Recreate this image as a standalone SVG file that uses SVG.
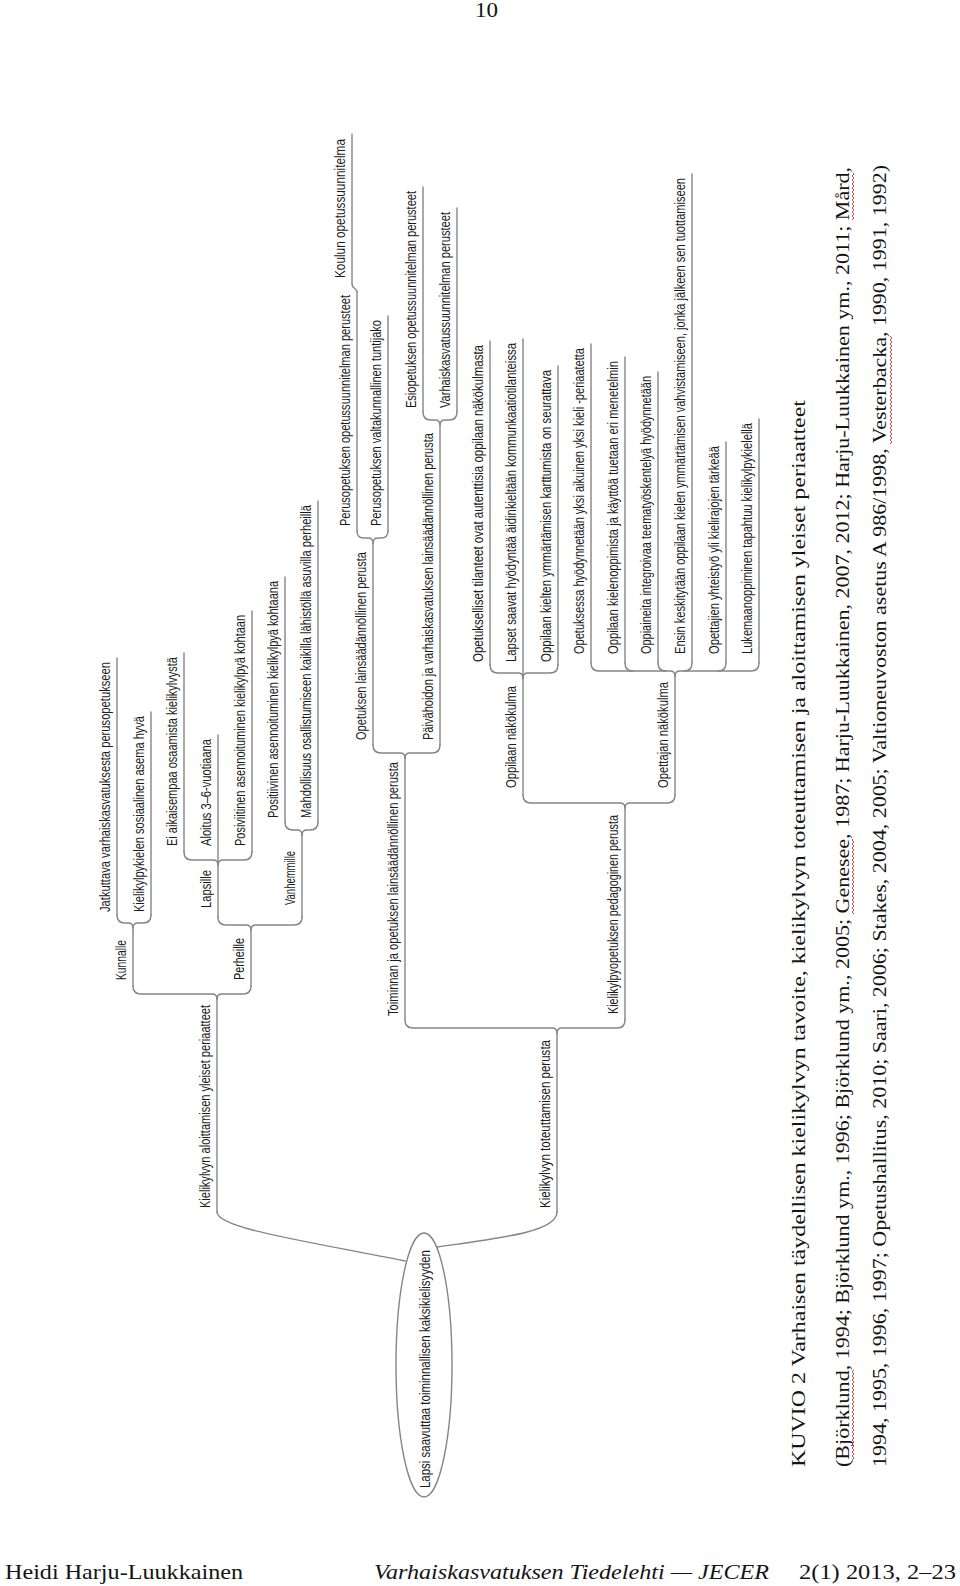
<svg xmlns="http://www.w3.org/2000/svg" width="960" height="1586" viewBox="0 0 960 1586">
<style>
.t{font-family:"Liberation Sans Narrow","Liberation Sans",Arial,sans-serif;font-size:15px;fill:#1c1c1c}
.u{stroke:#858585;stroke-width:1.4;fill:none;stroke-linecap:round}
.c{stroke:#858585;stroke-width:1.4;fill:none;stroke-linecap:round;stroke-linejoin:round}
.cap{font-family:"Liberation Serif","DejaVu Serif",serif;font-size:19px;fill:#141414}
.ft{font-family:"Liberation Serif","DejaVu Serif",serif;font-size:21px;fill:#141414}
</style>
<defs>
<pattern id="wave" width="2" height="4" patternUnits="userSpaceOnUse">
<path d="M0,0 L2,2 L0,4" stroke="#d23030" stroke-width="0.9" fill="none"/>
</pattern>
</defs>
<rect width="960" height="1586" fill="#ffffff"/>
<text class="ft" x="475" y="17" font-size="20" textLength="23" lengthAdjust="spacingAndGlyphs">10</text>

<g id="connectors">
<path class="c" d="M405,1261 C300,1240 217,1228 217,1212"/>
<path class="c" d="M437,1247 C500,1238 557,1232 557,1212"/>
<path class="c" d="M133,986 Q133,994 141,994 L212,994 Q217,994 217,999"/>
<path class="c" d="M251,986 Q251,994 243,994 L222,994 Q217,994 217,999"/>
<path class="c" d="M117,915 Q117,923 125,923 L128,923 Q133,923 133,928"/>
<path class="c" d="M151,915 Q151,923 143,923 L138,923 Q133,923 133,928"/>
<path class="c" d="M218,917 Q218,925 226,925 L246,925 Q251,925 251,930"/>
<path class="c" d="M302,917 Q302,925 294,925 L256,925 Q251,925 251,930"/>
<path class="c" d="M184,852 Q184,860 192,860 L213,860 Q218,860 218,865"/>
<path class="c" d="M252,852 Q252,860 244,860 L223,860 Q218,860 218,865"/>
<path class="c" d="M285,822 Q285,830 293,830 L297,830 Q302,830 302,835"/>
<path class="c" d="M318,822 Q318,830 310,830 L307,830 Q302,830 302,835"/>
<path class="c" d="M405,1020 Q405,1028 413,1028 L552,1028 Q557,1028 557,1033"/>
<path class="c" d="M625,1020 Q625,1028 617,1028 L562,1028 Q557,1028 557,1033"/>
<path class="c" d="M373,745 Q373,753 381,753 L400,753 Q405,753 405,758"/>
<path class="c" d="M440,745 Q440,753 432,753 L410,753 Q405,753 405,758"/>
<path class="c" d="M357,531 Q357,538 364,538 L368,538 Q373,538 373,543"/>
<path class="c" d="M388,531 Q388,538 381,538 L378,538 Q373,538 373,543"/>
<path class="c" d="M357,292 C357,288 352,289 352,284"/>
<path class="c" d="M423,412 Q423,420 431,420 L435,420 Q440,420 440,425"/>
<path class="c" d="M457,412 Q457,420 449,420 L445,420 Q440,420 440,425"/>
<path class="c" d="M523,795 Q523,803 531,803 L620,803 Q625,803 625,808"/>
<path class="c" d="M675,795 Q675,803 667,803 L630,803 Q625,803 625,808"/>
<path class="c" d="M490,665 Q490,673 498,673 L518,673 Q523,673 523,678"/>
<path class="c" d="M558,665 Q558,673 550,673 L528,673 Q523,673 523,678"/>
<path class="c" d="M591,663 Q591,671 599,671 L670,671 Q675,671 675,676"/>
<path class="c" d="M759,663 Q759,671 751,671 L680,671 Q675,671 675,676"/>
<path class="c" d="M625,663 Q625,671 633,671"/>
<path class="c" d="M658,663 Q658,671 666,671"/>
<path class="c" d="M692,663 Q692,671 684,671"/>
<path class="c" d="M726,663 Q726,671 718,671"/>
</g>

<g id="n-root">
<ellipse cx="424" cy="1365" rx="28" ry="132" fill="#ffffff" stroke="#858585" stroke-width="1.4"/>
<text class="t" x="430" y="1369" transform="rotate(-90 430 1369)" text-anchor="middle" textLength="238" lengthAdjust="spacingAndGlyphs">Lapsi saavuttaa toiminnallisen kaksikielisyyden</text>
</g>

<g id="n-aloittamisen">
<line class="u" x1="217" y1="999" x2="217" y2="1212"/>
<text class="t" x="210" y="1208" transform="rotate(-90 210 1208)" textLength="203" lengthAdjust="spacingAndGlyphs">Kielikylvyn aloittamisen yleiset periaatteet</text>
</g>
<g id="n-kunnalle">
<line class="u" x1="133" y1="928" x2="133" y2="986"/>
<text class="t" x="126" y="980" transform="rotate(-90 126 980)" textLength="40" lengthAdjust="spacingAndGlyphs">Kunnalle</text>
</g>
<g id="n-perheille">
<line class="u" x1="251" y1="930" x2="251" y2="986"/>
<text class="t" x="244" y="980" transform="rotate(-90 244 980)" textLength="42" lengthAdjust="spacingAndGlyphs">Perheille</text>
</g>
<g id="n-jatkuttava">
<line class="u" x1="117" y1="658" x2="117" y2="915"/>
<text class="t" x="110" y="912" transform="rotate(-90 110 912)" textLength="250" lengthAdjust="spacingAndGlyphs">Jatkuttava varhaiskasvatuksesta perusopetukseen</text>
</g>
<g id="n-sosiaalinen">
<line class="u" x1="151" y1="712" x2="151" y2="915"/>
<text class="t" x="144" y="912" transform="rotate(-90 144 912)" textLength="196" lengthAdjust="spacingAndGlyphs">Kielikylpykielen sosiaalinen asema hyvä</text>
</g>
<g id="n-lapsille">
<line class="u" x1="218" y1="865" x2="218" y2="917"/>
<text class="t" x="211" y="908" transform="rotate(-90 211 908)" textLength="38" lengthAdjust="spacingAndGlyphs">Lapsille</text>
</g>
<g id="n-vanhemmille">
<line class="u" x1="302" y1="835" x2="302" y2="917"/>
<text class="t" x="295" y="905" transform="rotate(-90 295 905)" textLength="54" lengthAdjust="spacingAndGlyphs">Vanhemmille</text>
</g>
<g id="n-ei-aikaisempaa">
<line class="u" x1="184" y1="653" x2="184" y2="852"/>
<text class="t" x="177" y="846" transform="rotate(-90 177 846)" textLength="189" lengthAdjust="spacingAndGlyphs">Ei aikaisempaa osaamista kielikylvystä</text>
</g>
<g id="n-aloitus">
<line class="u" x1="218" y1="735" x2="218" y2="865"/>
<text class="t" x="211" y="846" transform="rotate(-90 211 846)" textLength="107" lengthAdjust="spacingAndGlyphs">Aloitus 3–6-vuotiaana</text>
</g>
<g id="n-posiviitinen">
<line class="u" x1="252" y1="611" x2="252" y2="852"/>
<text class="t" x="245" y="846" transform="rotate(-90 245 846)" textLength="231" lengthAdjust="spacingAndGlyphs">Posiviitinen asennoituminen kielikylpyä kohtaan</text>
</g>
<g id="n-positiivinen">
<line class="u" x1="285" y1="577" x2="285" y2="822"/>
<text class="t" x="278" y="818" transform="rotate(-90 278 818)" textLength="237" lengthAdjust="spacingAndGlyphs">Positiivinen asennoituminen kielikylpyä kohtaana</text>
</g>
<g id="n-mahdollisuus">
<line class="u" x1="318" y1="501" x2="318" y2="822"/>
<text class="t" x="311" y="818" transform="rotate(-90 311 818)" textLength="313" lengthAdjust="spacingAndGlyphs">Mahdollisuus osallistumiseen kaikilla lähistöllä asuvilla perheillä</text>
</g>

<g id="n-toteuttamisen">
<line class="u" x1="557" y1="1033" x2="557" y2="1212"/>
<text class="t" x="550" y="1208" transform="rotate(-90 550 1208)" textLength="168" lengthAdjust="spacingAndGlyphs">Kielikylvyn toteuttamisen perusta</text>
</g>
<g id="n-toiminnan">
<line class="u" x1="405" y1="758" x2="405" y2="1020"/>
<text class="t" x="398" y="1016" transform="rotate(-90 398 1016)" textLength="254" lengthAdjust="spacingAndGlyphs">Toiminnan ja opetuksen lainsäädännöllinen perusta</text>
</g>
<g id="n-pedagoginen">
<line class="u" x1="625" y1="808" x2="625" y2="1020"/>
<text class="t" x="618" y="1014" transform="rotate(-90 618 1014)" textLength="199" lengthAdjust="spacingAndGlyphs">Kielikylpyopetuksen pedagoginen perusta</text>
</g>
<g id="n-opetuksen-lains">
<line class="u" x1="373" y1="543" x2="373" y2="745"/>
<text class="t" x="366" y="740" transform="rotate(-90 366 740)" textLength="188" lengthAdjust="spacingAndGlyphs">Opetuksen lainsäädännöllinen perusta</text>
</g>
<g id="n-paivahoidon">
<line class="u" x1="440" y1="425" x2="440" y2="745"/>
<text class="t" x="433" y="740" transform="rotate(-90 433 740)" textLength="307" lengthAdjust="spacingAndGlyphs">Päivähoidon ja varhaiskasvatuksen lainsäädännöllinen perusta</text>
</g>
<g id="n-pops-perusteet">
<line class="u" x1="357" y1="292" x2="357" y2="531"/>
<text class="t" x="350" y="526" transform="rotate(-90 350 526)" textLength="231" lengthAdjust="spacingAndGlyphs">Perusopetuksen opetussuunnitelman perusteet</text>
</g>
<g id="n-koulun">
<line class="u" x1="352" y1="134" x2="352" y2="284"/>
<text class="t" x="345" y="278" transform="rotate(-90 345 278)" textLength="139" lengthAdjust="spacingAndGlyphs">Koulun opetussuunnitelma</text>
</g>
<g id="n-tuntijako">
<line class="u" x1="388" y1="316" x2="388" y2="531"/>
<text class="t" x="381" y="526" transform="rotate(-90 381 526)" textLength="206" lengthAdjust="spacingAndGlyphs">Perusopetuksen valtakunnallinen tuntijako</text>
</g>
<g id="n-esiopetuksen">
<line class="u" x1="423" y1="187" x2="423" y2="412"/>
<text class="t" x="416" y="408" transform="rotate(-90 416 408)" textLength="217" lengthAdjust="spacingAndGlyphs">Esiopetuksen opetussuunnitelman perusteet</text>
</g>
<g id="n-vasu">
<line class="u" x1="457" y1="208" x2="457" y2="412"/>
<text class="t" x="450" y="408" transform="rotate(-90 450 408)" textLength="196" lengthAdjust="spacingAndGlyphs">Varhaiskasvatussuunnitelman perusteet</text>
</g>
<g id="n-oppilaan-nakokulma">
<line class="u" x1="523" y1="678" x2="523" y2="795"/>
<text class="t" x="516" y="788" transform="rotate(-90 516 788)" textLength="102" lengthAdjust="spacingAndGlyphs">Oppilaan näkökulma</text>
</g>
<g id="n-opettajan-nakokulma">
<line class="u" x1="675" y1="676" x2="675" y2="795"/>
<text class="t" x="668" y="788" transform="rotate(-90 668 788)" textLength="106" lengthAdjust="spacingAndGlyphs">Opettajan näkökulma</text>
</g>
<g id="n-autenttisia">
<line class="u" x1="490" y1="341" x2="490" y2="665"/>
<text class="t" x="483" y="662" transform="rotate(-90 483 662)" textLength="317" lengthAdjust="spacingAndGlyphs">Opetukselliset tilanteet ovat autenttisia oppilaan näkökulmasta</text>
</g>
<g id="n-aidinkieli">
<line class="u" x1="523" y1="339" x2="523" y2="678"/>
<text class="t" x="516" y="662" transform="rotate(-90 516 662)" textLength="319" lengthAdjust="spacingAndGlyphs">Lapset saavat hyödyntää äidinkieltään kommunkaatiotilanteissa</text>
</g>
<g id="n-karttumista">
<line class="u" x1="558" y1="366" x2="558" y2="665"/>
<text class="t" x="551" y="662" transform="rotate(-90 551 662)" textLength="292" lengthAdjust="spacingAndGlyphs">Oppilaan kielten ymmärtämisen karttumista on seurattava</text>
</g>
<g id="n-yksi-kieli">
<line class="u" x1="591" y1="344" x2="591" y2="663"/>
<text class="t" x="584" y="654" transform="rotate(-90 584 654)" textLength="306" lengthAdjust="spacingAndGlyphs">Opetuksessa hyödynnetään yksi aikuinen yksi kieli -periaatetta</text>
</g>
<g id="n-menetelmin">
<line class="u" x1="625" y1="357" x2="625" y2="663"/>
<text class="t" x="618" y="654" transform="rotate(-90 618 654)" textLength="293" lengthAdjust="spacingAndGlyphs">Oppilaan kielenoppimista ja käyttöä tuetaan eri menetelmin</text>
</g>
<g id="n-teematyoskentely">
<line class="u" x1="658" y1="372" x2="658" y2="663"/>
<text class="t" x="651" y="654" transform="rotate(-90 651 654)" textLength="278" lengthAdjust="spacingAndGlyphs">Oppiaineita integroivaa teematyöskentelyä hyödynnetään</text>
</g>
<g id="n-ymmartaminen">
<line class="u" x1="692" y1="174" x2="692" y2="663"/>
<text class="t" x="685" y="654" transform="rotate(-90 685 654)" textLength="476" lengthAdjust="spacingAndGlyphs">Ensin keskitytään oppilaan kielen ymmärtämisen vahvistamiseen, jonka jälkeen sen tuottamiseen</text>
</g>
<g id="n-yhteistyo">
<line class="u" x1="726" y1="442" x2="726" y2="663"/>
<text class="t" x="719" y="654" transform="rotate(-90 719 654)" textLength="208" lengthAdjust="spacingAndGlyphs">Opettajien yhteistyö yli kielirajojen tärkeää</text>
</g>
<g id="n-lukemaan">
<line class="u" x1="759" y1="419" x2="759" y2="663"/>
<text class="t" x="752" y="654" transform="rotate(-90 752 654)" textLength="231" lengthAdjust="spacingAndGlyphs">Lukemaanoppiminen tapahtuu kielikylpykielellä</text>
</g>

<g id="caption">
<text class="cap" x="805" y="1467" transform="rotate(-90 805 1467)" textLength="1067" lengthAdjust="spacingAndGlyphs">KUVIO 2 Varhaisen täydellisen kielikylvyn tavoite, kielikylvyn toteuttamisen ja aloittamisen yleiset periaatteet</text>
<text class="cap" x="849" y="1467" transform="rotate(-90 849 1467)" textLength="1300" lengthAdjust="spacingAndGlyphs">(Björklund, 1994; Björklund ym., 1996; Björklund ym., 2005; Genesee, 1987; Harju-Luukkainen, 2007, 2012; Harju-Luukkainen ym., 2011; Mård,</text>
<text class="cap" x="886" y="1467" transform="rotate(-90 886 1467)" textLength="1302" lengthAdjust="spacingAndGlyphs">1994, 1995, 1996, 1997; Opetushallitus, 2010; Saari, 2006; Stakes, 2004, 2005; Valtioneuvoston asetus A 986/1998, Vesterbacka, 1990, 1991, 1992)</text>
<rect x="852" y="1370" width="2" height="90" fill="url(#wave)"/>
<rect x="852" y="839" width="2" height="75" fill="url(#wave)"/>
<rect x="852" y="173" width="2" height="47" fill="url(#wave)"/>
<rect x="890" y="336" width="2" height="108" fill="url(#wave)"/>
</g>

<g id="footer">
<text class="ft" x="5" y="1579" textLength="238" lengthAdjust="spacingAndGlyphs">Heidi Harju-Luukkainen</text>
<text class="ft" x="374" y="1579" font-style="italic" textLength="395" lengthAdjust="spacingAndGlyphs">Varhaiskasvatuksen Tiedelehti — JECER</text>
<text class="ft" x="799" y="1579" textLength="157" lengthAdjust="spacingAndGlyphs">2(1) 2013, 2–23</text>
</g>
</svg>
